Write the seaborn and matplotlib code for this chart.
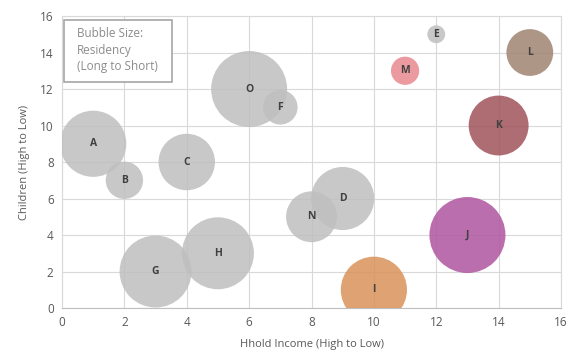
import matplotlib
matplotlib.use("Agg")
import matplotlib.pyplot as plt
import pandas as pd
import seaborn as sns
from matplotlib.patches import Rectangle

labels = ["A", "B", "C", "D", "E", "F", "G", "H", "I", "J", "K", "L", "M", "N", "O"]
income = [1, 2, 4, 9, 12, 7, 3, 5, 10, 13, 14, 15, 11, 8, 6]
children = [9, 7, 8, 6, 15, 11, 2, 3, 1, 4, 10, 14, 13, 5, 12]
residency = [11, 3.5, 8, 10, 0.8, 3, 13, 13, 11, 14.5, 9, 5.5, 2, 6.5, 14.5]

gray = "#bfbfbf"
colors = {l: gray for l in labels}
colors.update({"I": "#d9925a", "J": "#b0559f", "K": "#a0525a",
               "L": "#a08472", "M": "#e88a8f"})

df = pd.DataFrame({"label": labels, "income": income,
                   "children": children, "residency": residency})

sns.set_style("white")
plt.rcParams["font.family"] = ["Open Sans", "DejaVu Sans"]

fig = plt.figure(figsize=(5.71, 3.56), dpi=100)
ax = fig.add_axes([0.1086, 0.1348, 0.8739, 0.8202])

# area proportional to residency; J (14.5) ~ 38 px radius
smax = (1.44 * 38) ** 2
sns.scatterplot(data=df, x="income", y="children", hue="label", palette=colors,
                size="residency", sizes=(0, smax * 16 / 14.5), size_norm=(0, 16),
                alpha=0.85, linewidth=0, legend=False, ax=ax, zorder=3)

for l, x, y in zip(labels, income, children):
    ax.text(x, y, l, ha="center", va="center", fontsize=7.5,
            color="#404040", fontweight="bold", zorder=4)

ax.set_xlim(0, 16)
ax.set_ylim(0, 16)
ax.set_xticks(range(0, 17, 2))
ax.set_yticks(range(0, 17, 2))
ax.grid(True, color="#d9d9d9", linewidth=0.8, zorder=0)
ax.set_axisbelow(True)
for s in ax.spines.values():
    s.set_color("#d9d9d9")
ax.spines["bottom"].set_color("#bfbfbf")
ax.tick_params(colors="#595959", labelsize=8.5, length=0, pad=6)
ax.set_xlabel("Hhold Income (High to Low)", color="#595959", fontsize=8, labelpad=7)
ax.set_ylabel("Children (High to Low)", color="#595959", fontsize=8, labelpad=7)

# legend-style note box
ax.add_patch(Rectangle((0.004, 0.774), 0.217, 0.212, transform=ax.transAxes,
                       facecolor="white", edgecolor="#a6a6a6", linewidth=1.2, zorder=5))
ax.text(0.03, 0.962, "Bubble Size:\nResidency\n(Long to Short)", transform=ax.transAxes,
        ha="left", va="top", fontsize=8.5, color="#8c8c8c", linespacing=1.35, zorder=6)

fig.savefig("out.png", dpi=100)
